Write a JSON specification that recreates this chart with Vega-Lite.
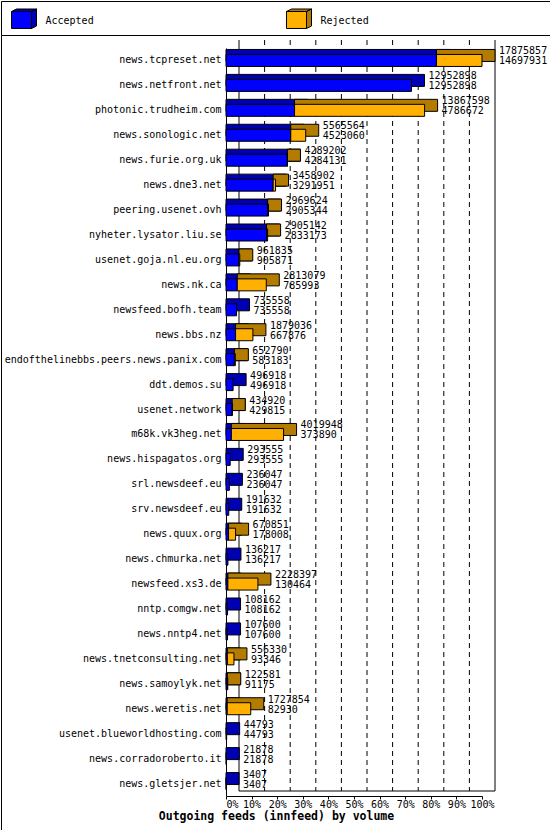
{
  "$schema": "https://vega.github.io/schema/vega-lite/v6.json",
  "background": "white",
  "padding": 0,
  "spacing": 0,
  "bounds": "flush",
  "resolve": {"scale": {"x": "independent", "y": "independent", "color": "independent", "fill": "independent"}},
  "config": {
    "view": {"stroke": "black", "strokeWidth": 1},
    "font": "DejaVu Sans Mono",
    "text": {"font": "DejaVu Sans Mono", "fontSize": 10, "color": "black"},
    "axis": {"labelFont": "DejaVu Sans Mono", "labelFontSize": 10, "labelColor": "black", "domainColor": "black", "tickColor": "black", "titleFont": "DejaVu Sans Mono", "titleColor": "black"}
  },
  "vconcat": [
    {
      "width": 549,
      "height": 34,
      "data": {"values": [{"status": "Accepted"}, {"status": "Rejected"}]},
      "encoding": {
        "x": {"field": "status", "type": "nominal", "bandPosition": 0, "scale": {"type": "band", "padding": 0, "range": [0, 550]}, "axis": null}
      },
      "layer": [
        {
          "mark": {"type": "point", "shape": "M-1,-0.85L-0.5,-1.1L1.5,-1.1L1,-0.85Z M1,-0.85L1.5,-1.1L1.5,0.6L1,0.85Z", "size": 400, "filled": true, "opacity": 1, "stroke": "black", "strokeWidth": 1, "xOffset": 20.5, "yOffset": 2},
          "encoding": {
            "fill": {"condition": {"test": "datum.status == 'Accepted'", "value": "#0000B3"}, "value": "#B37B00"}
          }
        },
        {
          "mark": {"type": "point", "shape": "M-1,-0.85L1,-0.85L1,0.85L-1,0.85Z", "size": 400, "filled": true, "opacity": 1, "stroke": "black", "strokeWidth": 1, "xOffset": 20.5, "yOffset": 2},
          "encoding": {
            "fill": {"field": "status", "type": "nominal", "scale": {"domain": ["Accepted", "Rejected"], "range": ["#0000FF", "#FFB000"]}, "legend": null}
          }
        },
        {
          "mark": {"type": "text", "align": "left", "baseline": "middle", "xOffset": 44.5, "yOffset": 3},
          "encoding": {"text": {"field": "status", "type": "nominal"}}
        }
      ]
    },
    {
      "width": 549,
      "height": 795,
      "resolve": {"scale": {"x": "independent", "y": "independent"}},
      "layer": [
        {
          "data": {"values": [
            {"pct": 0}, {"pct": 10}, {"pct": 20}, {"pct": 30}, {"pct": 40}, {"pct": 50},
            {"pct": 60}, {"pct": 70}, {"pct": 80}, {"pct": 90}, {"pct": 100}
          ]},
          "layer": [
            {
              "mark": {"type": "rule", "color": "black", "strokeWidth": 1},
              "encoding": {
                "x": {"field": "pct", "type": "quantitative", "scale": {"domain": [0, 100], "range": [238, 494], "nice": false, "zero": false}, "axis": null},
                "y": {"datum": 0, "type": "quantitative", "scale": {"domain": [0, 1], "range": [5, 756], "nice": false, "zero": false}, "axis": null},
                "y2": {"datum": 1},
                "strokeDash": {"condition": {"test": "datum.pct == 0 || datum.pct == 100", "value": [1, 0]}, "value": [5, 4]}
              }
            },
            {
              "transform": [{"filter": "datum.pct == 0"}],
              "mark": {"type": "rule", "color": "black", "strokeWidth": 1},
              "encoding": {
                "x": {"datum": 0, "type": "quantitative"},
                "x2": {"datum": 100},
                "y": {"datum": 1, "type": "quantitative"}
              }
            }
          ]
        },
        {
          "data": {"values": [
            {"host": "news.tcpreset.net", "Accepted": 14697931, "Rejected": 3177926, "total": 17875857},
            {"host": "news.netfront.net", "Accepted": 12952898, "Rejected": 0, "total": 12952898},
            {"host": "photonic.trudheim.com", "Accepted": 4786672, "Rejected": 9080926, "total": 13867598},
            {"host": "news.sonologic.net", "Accepted": 4523060, "Rejected": 1042504, "total": 5565564},
            {"host": "news.furie.org.uk", "Accepted": 4284131, "Rejected": 5071, "total": 4289202},
            {"host": "news.dne3.net", "Accepted": 3291951, "Rejected": 166951, "total": 3458902},
            {"host": "peering.usenet.ovh", "Accepted": 2905344, "Rejected": 64280, "total": 2969624},
            {"host": "nyheter.lysator.liu.se", "Accepted": 2833173, "Rejected": 71969, "total": 2905142},
            {"host": "usenet.goja.nl.eu.org", "Accepted": 905871, "Rejected": 55964, "total": 961835},
            {"host": "news.nk.ca", "Accepted": 785993, "Rejected": 2027086, "total": 2813079},
            {"host": "newsfeed.bofh.team", "Accepted": 735558, "Rejected": 0, "total": 735558},
            {"host": "news.bbs.nz", "Accepted": 667876, "Rejected": 1211160, "total": 1879036},
            {"host": "endofthelinebbs.peers.news.panix.com", "Accepted": 583183, "Rejected": 69607, "total": 652790},
            {"host": "ddt.demos.su", "Accepted": 496918, "Rejected": 0, "total": 496918},
            {"host": "usenet.network", "Accepted": 429815, "Rejected": 5105, "total": 434920},
            {"host": "m68k.vk3heg.net", "Accepted": 373890, "Rejected": 3646058, "total": 4019948},
            {"host": "news.hispagatos.org", "Accepted": 293555, "Rejected": 0, "total": 293555},
            {"host": "srl.newsdeef.eu", "Accepted": 236047, "Rejected": 0, "total": 236047},
            {"host": "srv.newsdeef.eu", "Accepted": 191632, "Rejected": 0, "total": 191632},
            {"host": "news.quux.org", "Accepted": 178008, "Rejected": 492843, "total": 670851},
            {"host": "news.chmurka.net", "Accepted": 136217, "Rejected": 0, "total": 136217},
            {"host": "newsfeed.xs3.de", "Accepted": 130464, "Rejected": 2097933, "total": 2228397},
            {"host": "nntp.comgw.net", "Accepted": 108162, "Rejected": 0, "total": 108162},
            {"host": "news.nntp4.net", "Accepted": 107600, "Rejected": 0, "total": 107600},
            {"host": "news.tnetconsulting.net", "Accepted": 93346, "Rejected": 462984, "total": 556330},
            {"host": "news.samoylyk.net", "Accepted": 91175, "Rejected": 31406, "total": 122581},
            {"host": "news.weretis.net", "Accepted": 82930, "Rejected": 1644924, "total": 1727854},
            {"host": "usenet.blueworldhosting.com", "Accepted": 44793, "Rejected": 0, "total": 44793},
            {"host": "news.corradoroberto.it", "Accepted": 21878, "Rejected": 0, "total": 21878},
            {"host": "news.gletsjer.net", "Accepted": 3407, "Rejected": 0, "total": 3407}
          ]},
          "encoding": {
            "y": {
              "field": "host", "type": "nominal", "sort": null,
              "scale": {"range": [13, 761], "padding": 0},
              "axis": {"orient": "left", "title": null, "offset": -225, "ticks": false, "tickSize": 0, "labelPadding": 5, "labelLimit": 300, "domain": true}
            }
          },
          "layer": [
            {
              "transform": [
                {"fold": ["Accepted", "Rejected"], "as": ["key", "value"]},
                {"filter": "datum.value > 0"},
                {"stack": "value", "groupby": ["host"], "sort": [{"field": "key", "order": "ascending"}], "as": ["x0", "x1"]}
              ],
              "mark": {"type": "bar", "size": 12, "x2Offset": 13, "yOffset": -5, "stroke": "black", "strokeWidth": 1},
              "encoding": {
                "x": {
                  "field": "x0", "type": "quantitative",
                  "scale": {"domain": [0, 17875857], "range": [225, 481], "nice": false, "zero": false},
                  "axis": {
                    "orient": "bottom", "offset": -34, "grid": false, "tickSize": 3, "labelPadding": 0,
                    "labelOverlap": false, "labelFlush": false,
                    "labelAlign": {"condition": {"test": "datum.value == 0", "value": "left"}, "value": "center"},
                    "values": [0, 1787585.7, 3575171.4, 5362757.1, 7150342.8, 8937928.5, 10725514.2, 12513099.9, 14300685.6, 16088271.3, 17875857],
                    "labelExpr": "round(datum.value / 17875857 * 100) + '%'",
                    "title": "Outgoing feeds (innfeed) by volume",
                    "titleFontWeight": "bold", "titleFontSize": 11.5, "titlePadding": 1,
                    "titleX": 275, "titleAlign": "center"
                  }
                },
                "x2": {"field": "x1"},
                "fill": {"condition": {"test": "datum.key == 'Accepted'", "value": "#0000B3"}, "value": "#B37B00"}
              }
            },
            {
              "transform": [
                {"fold": ["Accepted", "Rejected"], "as": ["key", "value"]},
                {"filter": "datum.value > 0"},
                {"stack": "value", "groupby": ["host"], "sort": [{"field": "key", "order": "ascending"}], "as": ["x0", "x1"]}
              ],
              "mark": {"type": "bar", "size": 12, "stroke": "black", "strokeWidth": 1},
              "encoding": {
                "x": {"field": "x0", "type": "quantitative"},
                "x2": {"field": "x1"},
                "fill": {"field": "key", "type": "nominal", "scale": {"domain": ["Accepted", "Rejected"], "range": ["#0000FF", "#FFB000"]}, "legend": null}
              }
            },
            {
              "mark": {"type": "text", "align": "left", "baseline": "middle", "dx": 17, "dy": -9},
              "encoding": {
                "x": {"field": "total", "type": "quantitative"},
                "text": {"field": "total", "type": "quantitative", "format": "d"}
              }
            },
            {
              "mark": {"type": "text", "align": "left", "baseline": "middle", "dx": 17, "dy": 1},
              "encoding": {
                "x": {"field": "total", "type": "quantitative"},
                "text": {"field": "Accepted", "type": "quantitative", "format": "d"}
              }
            }
          ]
        }
      ]
    }
  ]
}
